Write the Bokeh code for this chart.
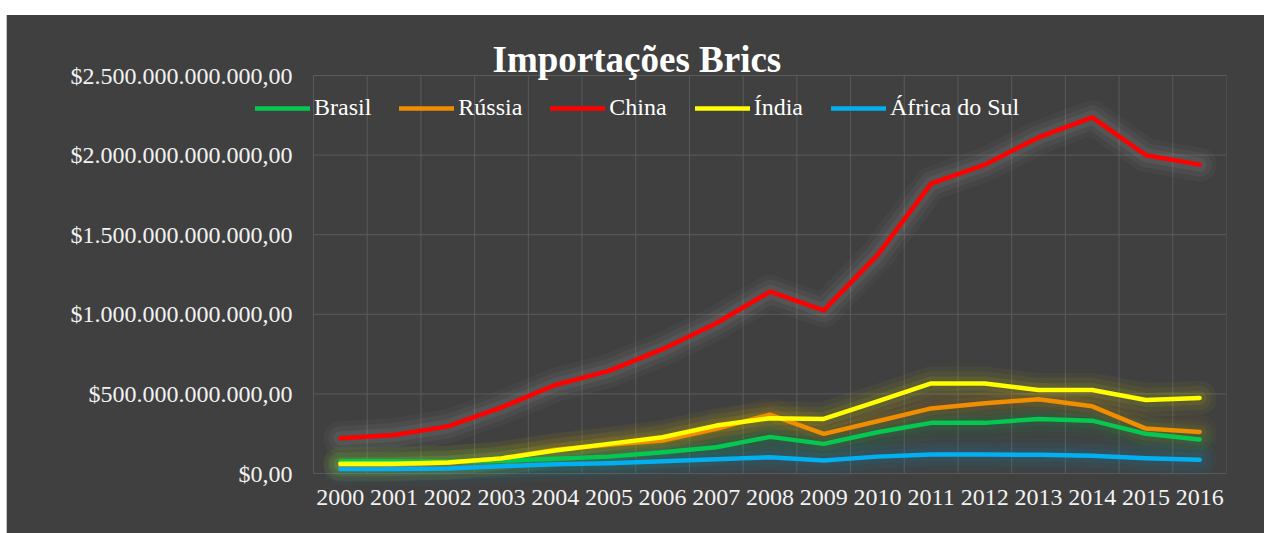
from bokeh.plotting import figure
from bokeh.models import (FixedTicker, Legend, LegendItem, Range1d, Div, ColumnDataSource)
from bokeh.core.properties import value
from bokeh.layouts import column, row
from bokeh.embed import file_html
from bokeh.resources import INLINE

years = [str(y) for y in range(2000, 2017)]
# imports in billions of US$
brasil = [77, 77, 74, 80, 92, 106, 134, 165, 230, 186, 259, 318, 318, 343, 332, 249, 213]
russia = [50, 57, 67, 95, 149, 180, 207, 280, 370, 249, 328, 409, 441, 466, 422, 282, 261]
china = [221, 242, 296, 415, 556, 645, 781, 944, 1142, 1025, 1372, 1821, 1940, 2111, 2237, 1999, 1940]
india = [61, 62, 69, 95, 144, 186, 228, 301, 347, 343, 453, 566, 566, 524, 524, 462, 474]
africa = [29, 29, 32, 46, 58, 65, 77, 90, 102, 81, 106, 119, 119, 118, 111, 96, 86]

series_names = ["Brasil", "Rússia", "China", "Índia", "África do Sul"]
series_vals = [brasil, russia, china, india, africa]
colors = ["#05C851", "#EE8E00", "#FF0000", "#FFFF00", "#00B0F0"]
glow_colors = ["#05C851", "#EE8E00", "#D0D0D0", "#FFFF00", "#00B0F0"]

y_ticks = [0, 500, 1000, 1500, 2000, 2500]
y_labels = ["$0,00", "$500.000.000.000,00", "$1.000.000.000.000,00",
            "$1.500.000.000.000,00", "$2.000.000.000.000,00", "$2.500.000.000.000,00"]
title_text = "Importações Brics"

BG = "#404040"
FONT = "Liberation Serif"
GRID = "#5A5A5A"
LABEL_SIZE = "24px"

n = len(years)
xs = list(range(n))

# frame covers the whole dark panel except the x-axis strip and a right margin
PX_X = 913.0 / n          # pixels per category
PX_Y = 398.0 / 2500.0     # pixels per billion
x_start = -0.5 - 306.0 / PX_X
y_start = -14.0 / PX_Y
y_end = 458.0 / PX_Y

p = figure(width=1257, height=518, output_backend="svg", toolbar_location=None,
           x_range=Range1d(x_start, n - 0.5), y_range=Range1d(y_start, y_end),
           min_border_left=0, min_border_right=38, min_border_top=0, min_border_bottom=46,
           styles={"background-color": BG})
p.background_fill_color = BG
p.border_fill_color = BG
p.outline_line_color = None
p.yaxis.visible = False
p.xgrid.visible = False
p.ygrid.visible = False

# grid lines (category boundaries and value ticks)
bounds = [i - 0.5 for i in range(n + 1)]
p.segment(x0=bounds, x1=bounds, y0=[0] * len(bounds), y1=[y_ticks[-1]] * len(bounds),
          line_color=GRID, line_width=1)
p.segment(x0=[-0.5] * len(y_ticks), x1=[n - 0.5] * len(y_ticks), y0=y_ticks, y1=y_ticks,
          line_color=GRID, line_width=1)

# y tick labels
p.text(x=[-0.5] * len(y_ticks), y=y_ticks, text=y_labels, x_offset=-21,
       text_align="right", text_baseline="middle", text_font=value(FONT),
       text_font_size=LABEL_SIZE, text_color="#F2F2F2")

# title
p.text(x=[-0.5 + 179.0 / PX_X], y=[413.7 / PX_Y], text=[title_text],
       text_align="left", text_baseline="alphabetic", text_font=value(FONT),
       text_font_size="37px", text_font_style="bold", text_color="#FFFFFF")

# glow layers
for vals, gc in zip(series_vals, glow_colors):
    src = ColumnDataSource(dict(x=xs, y=vals))
    for w, a in [(34, 0.04), (24, 0.05), (14, 0.07)]:
        p.line("x", "y", source=src, line_width=w, line_color=gc, line_alpha=a,
               line_join="round", line_cap="round")

items = []
for name, vals, c in zip(series_names, series_vals, colors):
    src = ColumnDataSource(dict(x=xs, y=vals))
    r = p.line("x", "y", source=src, line_width=4.5, line_color=c,
               line_join="round", line_cap="round")
    items.append(LegendItem(label=name, renderers=[r]))

# x axis
p.xaxis.ticker = FixedTicker(ticks=xs)
p.xaxis.major_label_overrides = {i: y for i, y in enumerate(years)}
ax = p.xaxis[0]
ax.axis_line_color = None
ax.major_tick_line_color = None
ax.minor_tick_line_color = None
ax.major_tick_out = 0
ax.major_label_text_font = FONT
ax.major_label_text_font_size = LABEL_SIZE
ax.major_label_text_color = "#F2F2F2"
ax.major_label_standoff = 2

legend = Legend(items=items, orientation="horizontal", location=(248, 366))
legend.background_fill_alpha = 0
legend.border_line_color = None
legend.padding = 0
legend.margin = 0
legend.spacing = 28
legend.glyph_width = 55
legend.glyph_height = 26
legend.label_height = 26
legend.label_standoff = 4
legend.label_text_font = FONT
legend.label_text_font_size = LABEL_SIZE
legend.label_text_color = "#FFFFFF"
p.add_layout(legend, "center")

top = Div(width=1264, height=15, margin=0, styles={"background-color": "#FFFFFF"})
left = Div(width=7, height=518, margin=0,
           styles={"background-color": "#FFFFFF", "border-right": "1px solid #C8C8C8",
                   "box-sizing": "border-box"})
layout = column(top, row(left, p, spacing=0, margin=0), spacing=0, margin=0)

open("out.html", "w").write(file_html(layout, INLINE))
